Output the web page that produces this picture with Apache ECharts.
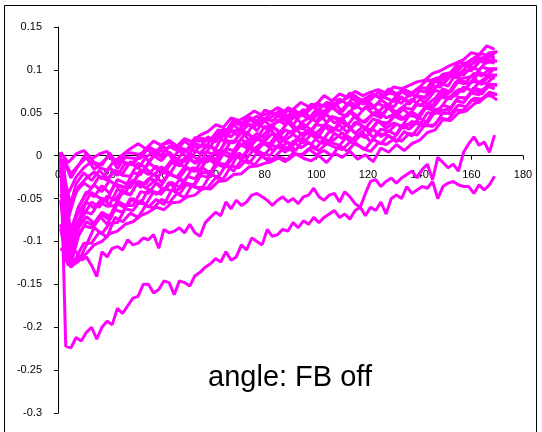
<!DOCTYPE html>
<html><head><meta charset="utf-8">
<script src="https://cdn.jsdelivr.net/npm/echarts@6/dist/echarts.min.js"></script>
<style>html,body{margin:0;padding:0;background:#fff}#c{width:542px;height:432px}</style>
</head><body><div id="c"></div>
<script>
// x sample positions
const xa = [1,4,7,10,13,16,19,22,25,28,31,34,37,40,43,46,49,52,55,58,61,64,67,70,73,76,79,82,85,88,91,94,97,100,103,106,109,112,115,118,121,124,127,130,133,136,139,142,145,148,151,154,157,160,163,166,169];
const xb = [2,5,8,11,14,17,20,23,26,29,32,35,38,41,44,47,50,53,56,59,62,65,68,71,74,77,80,83,86,89,92,95,98,101,104,107,110,113,116,119,122,125,128,131,134,137,140,143,146,149,152,155,158,161,164,167,170];
const xOdd = [1,3,5,7,9,11,13,15,17,19,21,23,25,27,29,31,33,35,37,39,41,43,45,47,49,51,53,55,57,59,61,63,65,67,69,71,73,75,77,79,81,83,85,87,89,91,93,95,97,99,101,103,105,107,109,111,113,115,117,119,121,123,125,127,129,131,133,135,137,139,141,143,145,147,149,151,153,155,157,159,161,163,165,167,169];

// bundle series
const t1 = [0.004,-0.008,0.002,0.006,-0.004,0.002,0.005,-0.006,0.001,0.008,0.014,0.008,0.017,0.012,0.018,0.011,0.020,0.016,0.024,0.028,0.036,0.033,0.044,0.041,0.046,0.052,0.047,0.050,0.056,0.051,0.054,0.062,0.057,0.060,0.070,0.064,0.072,0.068,0.075,0.070,0.074,0.077,0.073,0.080,0.078,0.082,0.086,0.088,0.096,0.099,0.104,0.108,0.112,0.120,0.118,0.128,0.124];
const t2 = [-0.004,-0.026,-0.011,0.003,-0.008,-0.011,0.003,-0.010,0.003,0.003,0.001,0.011,0.005,0.014,0.015,0.009,0.007,0.021,0.020,0.018,0.030,0.028,0.042,0.038,0.045,0.040,0.053,0.050,0.046,0.056,0.051,0.049,0.060,0.058,0.058,0.066,0.063,0.073,0.067,0.063,0.071,0.068,0.078,0.072,0.077,0.073,0.080,0.089,0.086,0.095,0.097,0.108,0.108,0.114,0.119,0.116,0.122];
const t3 = [-0.020,-0.044,-0.025,-0.014,-0.007,-0.014,-0.017,-0.005,-0.007,-0.010,-0.003,0.008,0.002,0.001,0.011,0.006,0.017,0.010,0.010,0.022,0.016,0.031,0.029,0.029,0.044,0.039,0.037,0.049,0.047,0.040,0.055,0.047,0.052,0.061,0.058,0.055,0.066,0.060,0.070,0.060,0.065,0.074,0.067,0.063,0.075,0.069,0.077,0.074,0.089,0.087,0.094,0.095,0.107,0.106,0.114,0.114,0.116];
const t4 = [-0.020,-0.058,-0.036,-0.026,-0.019,-0.027,-0.014,-0.023,-0.009,-0.011,0.003,-0.006,0.001,0.011,-0.003,0.006,-0.002,0.014,0.011,0.010,0.026,0.022,0.036,0.028,0.037,0.029,0.044,0.040,0.050,0.039,0.046,0.054,0.042,0.053,0.051,0.062,0.051,0.062,0.059,0.067,0.056,0.065,0.059,0.070,0.065,0.063,0.076,0.074,0.087,0.083,0.093,0.091,0.104,0.102,0.113,0.111,0.110];
const t5 = [-0.005,-0.073,-0.042,-0.032,-0.038,-0.024,-0.029,-0.018,-0.023,-0.024,-0.009,-0.014,0.000,-0.006,0.004,-0.004,-0.007,0.007,0.003,0.012,0.008,0.025,0.022,0.031,0.024,0.039,0.034,0.029,0.042,0.036,0.048,0.038,0.044,0.040,0.052,0.059,0.049,0.046,0.059,0.053,0.061,0.051,0.060,0.057,0.069,0.060,0.070,0.068,0.076,0.085,0.081,0.096,0.094,0.103,0.100,0.110,0.108];
const t6 = [-0.064,-0.087,-0.059,-0.045,-0.034,-0.042,-0.029,-0.036,-0.037,-0.020,-0.022,-0.008,-0.015,-0.017,-0.005,-0.009,0.000,-0.008,0.004,0.003,0.001,0.018,0.015,0.030,0.024,0.020,0.034,0.033,0.027,0.039,0.033,0.031,0.041,0.049,0.039,0.045,0.042,0.052,0.046,0.057,0.048,0.044,0.057,0.051,0.058,0.066,0.058,0.065,0.076,0.074,0.075,0.089,0.091,0.093,0.103,0.101,0.101];
const t7 = [-0.004,-0.092,-0.071,-0.057,-0.043,-0.049,-0.052,-0.033,-0.036,-0.037,-0.023,-0.015,-0.023,-0.013,-0.023,-0.008,-0.013,0.000,-0.007,-0.007,0.007,0.003,0.017,0.016,0.028,0.017,0.023,0.032,0.020,0.030,0.026,0.037,0.025,0.036,0.035,0.046,0.040,0.035,0.047,0.039,0.046,0.053,0.044,0.048,0.056,0.048,0.060,0.058,0.058,0.073,0.072,0.086,0.084,0.085,0.097,0.093,0.102];
const t8 = [-0.073,-0.106,-0.075,-0.054,-0.061,-0.050,-0.057,-0.039,-0.043,-0.028,-0.037,-0.027,-0.029,-0.014,-0.023,-0.026,-0.014,-0.018,-0.003,-0.005,-0.008,0.008,0.006,0.020,0.009,0.019,0.017,0.026,0.014,0.026,0.031,0.023,0.029,0.023,0.036,0.031,0.044,0.031,0.039,0.032,0.043,0.039,0.038,0.049,0.043,0.051,0.045,0.059,0.059,0.071,0.066,0.077,0.078,0.090,0.083,0.094,0.094];
const t9 = [-0.013,-0.111,-0.082,-0.065,-0.068,-0.054,-0.059,-0.058,-0.043,-0.046,-0.030,-0.038,-0.030,-0.035,-0.021,-0.025,-0.030,-0.014,-0.016,-0.003,-0.010,0.002,-0.003,0.010,0.017,0.008,0.015,0.010,0.022,0.016,0.012,0.025,0.029,0.022,0.020,0.032,0.029,0.037,0.026,0.034,0.029,0.040,0.032,0.038,0.034,0.047,0.045,0.056,0.053,0.055,0.068,0.070,0.080,0.076,0.085,0.084,0.093];
const t10 = [-0.102,-0.115,-0.084,-0.071,-0.079,-0.066,-0.071,-0.053,-0.058,-0.058,-0.042,-0.044,-0.032,-0.041,-0.031,-0.037,-0.024,-0.027,-0.014,-0.021,-0.009,-0.010,0.004,-0.005,0.008,0.006,0.015,0.006,0.014,0.006,0.019,0.015,0.025,0.016,0.013,0.026,0.020,0.031,0.024,0.031,0.021,0.031,0.028,0.037,0.032,0.040,0.036,0.050,0.049,0.059,0.056,0.068,0.067,0.079,0.076,0.083,0.083];
const t11 = [-0.052,-0.128,-0.097,-0.082,-0.084,-0.070,-0.080,-0.063,-0.066,-0.050,-0.055,-0.057,-0.042,-0.045,-0.031,-0.041,-0.033,-0.036,-0.023,-0.025,-0.009,-0.013,-0.013,0.003,-0.003,0.008,0.003,0.000,0.011,0.004,0.017,0.009,0.015,0.009,0.020,0.015,0.012,0.023,0.017,0.027,0.016,0.026,0.024,0.020,0.035,0.031,0.039,0.036,0.051,0.049,0.050,0.064,0.062,0.073,0.071,0.081,0.078];
const t12 = [-0.106,-0.129,-0.123,-0.104,-0.084,-0.091,-0.079,-0.078,-0.062,-0.064,-0.052,-0.060,-0.051,-0.057,-0.040,-0.045,-0.032,-0.037,-0.037,-0.022,-0.025,-0.011,-0.018,-0.005,-0.009,0.003,-0.003,-0.004,0.005,0.010,0.002,0.001,0.010,0.006,0.014,0.010,0.007,0.016,0.012,0.008,0.019,0.014,0.024,0.016,0.028,0.023,0.035,0.035,0.036,0.050,0.049,0.059,0.057,0.067,0.066,0.074,0.071];
const t13 = [-0.085,-0.128,-0.119,-0.102,-0.102,-0.089,-0.095,-0.072,-0.077,-0.067,-0.072,-0.058,-0.061,-0.051,-0.055,-0.044,-0.049,-0.034,-0.040,-0.037,-0.026,-0.027,-0.012,-0.014,-0.005,-0.011,0.000,-0.008,-0.002,-0.007,0.003,0.000,0.008,0.001,0.006,0.000,0.012,0.005,0.015,0.008,0.005,0.015,0.013,0.019,0.017,0.026,0.024,0.036,0.034,0.044,0.042,0.053,0.053,0.065,0.062,0.070,0.069];
const tC = [-0.118,-0.130,-0.120,-0.114,-0.104,-0.100,-0.091,-0.088,-0.080,-0.077,-0.070,-0.066,-0.060,-0.063,-0.055,-0.054,-0.048,-0.046,-0.038,-0.039,-0.030,-0.029,-0.022,-0.021,-0.013,-0.012,-0.009,-0.006,-0.002,-0.005,0.002,-0.003,-0.006,0.000,-0.008,0.003,-0.002,0.005,-0.004,0.001,-0.007,0.009,0.004,0.013,0.006,0.014,0.018,0.027,0.030,0.042,0.041,0.050,0.052,0.060,0.066,0.071,0.065];
const u1 = [-0.003,-0.021,-0.011,-0.002,-0.016,-0.008,0.000,-0.015,-0.002,-0.003,-0.003,0.009,0.006,0.005,0.012,0.008,0.006,0.017,0.017,0.017,0.029,0.027,0.039,0.035,0.041,0.046,0.040,0.046,0.053,0.046,0.051,0.047,0.057,0.054,0.062,0.058,0.064,0.069,0.062,0.067,0.072,0.066,0.073,0.071,0.076,0.073,0.079,0.079,0.090,0.092,0.093,0.104,0.106,0.113,0.113,0.120,0.121];
const u2 = [-0.045,-0.066,-0.033,-0.020,-0.029,-0.017,-0.027,-0.017,-0.021,-0.007,-0.015,-0.002,0.005,-0.002,0.004,-0.005,0.006,0.000,0.012,0.013,0.026,0.017,0.029,0.023,0.037,0.033,0.044,0.035,0.039,0.046,0.036,0.048,0.043,0.054,0.047,0.056,0.050,0.061,0.055,0.065,0.054,0.061,0.056,0.066,0.061,0.072,0.069,0.067,0.081,0.080,0.093,0.091,0.100,0.099,0.110,0.108,0.114];
const u3 = [-0.004,-0.097,-0.060,-0.042,-0.048,-0.035,-0.044,-0.028,-0.032,-0.032,-0.016,-0.022,-0.012,-0.021,-0.008,-0.012,-0.001,-0.009,-0.003,0.011,0.003,0.016,0.015,0.028,0.018,0.026,0.020,0.034,0.027,0.039,0.029,0.037,0.030,0.041,0.048,0.038,0.044,0.051,0.042,0.039,0.050,0.047,0.056,0.046,0.056,0.054,0.066,0.060,0.067,0.078,0.074,0.087,0.086,0.096,0.093,0.101,0.101];
const u4 = [-0.108,-0.118,-0.085,-0.069,-0.054,-0.060,-0.047,-0.052,-0.040,-0.046,-0.030,-0.033,-0.021,-0.031,-0.021,-0.025,-0.013,-0.018,-0.018,-0.001,-0.004,0.006,0.001,0.014,0.009,0.022,0.016,0.014,0.026,0.018,0.025,0.018,0.030,0.026,0.035,0.027,0.036,0.027,0.039,0.034,0.030,0.041,0.036,0.046,0.042,0.050,0.044,0.056,0.055,0.069,0.066,0.075,0.075,0.087,0.085,0.092,0.090];
const u5 = [-0.066,-0.126,-0.093,-0.077,-0.082,-0.069,-0.075,-0.056,-0.061,-0.050,-0.056,-0.039,-0.045,-0.038,-0.041,-0.028,-0.033,-0.034,-0.019,-0.021,-0.008,-0.013,-0.001,-0.003,0.010,0.003,0.001,0.012,0.009,0.016,0.006,0.019,0.013,0.024,0.014,0.019,0.027,0.016,0.025,0.021,0.031,0.022,0.029,0.024,0.037,0.035,0.044,0.038,0.052,0.053,0.055,0.068,0.067,0.077,0.072,0.082,0.082];
// two separated lower lines
const sB = [-0.080,-0.118,-0.108,-0.112,-0.122,-0.118,-0.128,-0.141,-0.112,-0.118,-0.108,-0.106,-0.110,-0.098,-0.104,-0.102,-0.096,-0.098,-0.092,-0.108,-0.086,-0.090,-0.088,-0.084,-0.090,-0.080,-0.090,-0.094,-0.078,-0.072,-0.066,-0.070,-0.054,-0.062,-0.052,-0.058,-0.054,-0.046,-0.044,-0.048,-0.052,-0.058,-0.052,-0.048,-0.054,-0.050,-0.056,-0.048,-0.046,-0.038,-0.048,-0.052,-0.046,-0.044,-0.054,-0.042,-0.048,-0.056,-0.060,-0.044,-0.030,-0.028,-0.036,-0.030,-0.026,-0.032,-0.026,-0.022,-0.018,-0.026,-0.016,-0.010,-0.028,-0.002,-0.008,-0.014,-0.010,-0.018,0.004,0.014,0.022,0.012,0.016,0.004,0.024];
const sA = [0.004,-0.222,-0.224,-0.212,-0.216,-0.206,-0.200,-0.214,-0.200,-0.193,-0.197,-0.178,-0.184,-0.175,-0.166,-0.164,-0.150,-0.150,-0.160,-0.156,-0.146,-0.148,-0.162,-0.146,-0.148,-0.152,-0.140,-0.136,-0.130,-0.126,-0.120,-0.124,-0.112,-0.122,-0.118,-0.104,-0.110,-0.096,-0.100,-0.104,-0.086,-0.094,-0.092,-0.086,-0.088,-0.078,-0.084,-0.076,-0.080,-0.072,-0.078,-0.072,-0.068,-0.064,-0.072,-0.068,-0.074,-0.064,-0.060,-0.070,-0.060,-0.064,-0.054,-0.068,-0.050,-0.046,-0.050,-0.036,-0.044,-0.040,-0.036,-0.038,-0.030,-0.050,-0.036,-0.032,-0.030,-0.034,-0.036,-0.036,-0.044,-0.034,-0.040,-0.034,-0.024];

const titleText = 'angle: FB off';

const lines = [
  [xa,t1],[xb,t2],[xa,t3],[xb,t4],[xa,t5],[xb,t6],[xa,t7],[xb,t8],[xa,t9],[xb,t10],[xa,t11],[xb,t12],[xa,t13],[xb,tC],
  [xb,u1],[xa,u2],[xb,u3],[xa,u4],[xb,u5],
  [xOdd,sB],[xOdd,sA]
];

const chart = echarts.init(document.getElementById('c'), null, {renderer:'canvas'});
const FONT = '"Liberation Sans", Arial, sans-serif';
// grid: top 27, bottom 19 -> plot height 386; the x axis is moved up to y = 0
const ZERO_OFFSET = -(386 * (0.3 / 0.45));
chart.setOption({
  animation:false,
  backgroundColor:'#ffffff',
  grid:{left:58,right:19,top:27,bottom:19,containLabel:false},
  xAxis:{type:'value',min:0,max:180,interval:20,position:'bottom',offset:ZERO_OFFSET,
    axisLine:{onZero:false,lineStyle:{color:'#000',width:1}},
    axisTick:{show:true,inside:false,length:4,lineStyle:{color:'#000'}},
    axisLabel:{color:'#000',fontSize:11,fontFamily:FONT,margin:14,showMinLabel:true,showMaxLabel:true},
    splitLine:{show:false}},
  yAxis:{type:'value',min:-0.3,max:0.15,interval:0.05,
    axisLine:{show:true,onZero:false,lineStyle:{color:'#000',width:1}},
    axisTick:{show:true,inside:false,length:4,lineStyle:{color:'#000'}},
    axisLabel:{color:'#000',fontSize:11,fontFamily:FONT,margin:16},
    splitLine:{show:false}},
  graphic:[
    {type:'rect',shape:{x:4.5,y:5.5,width:532,height:440},style:{fill:null,stroke:'#000',lineWidth:1},z:-10,silent:true},
    {type:'text',x:290,y:378,style:{text:titleText,font:'29px '+FONT,fill:'#000',textAlign:'center',textVerticalAlign:'middle'},z:100}
  ],
  series: lines.map(([xs,ys])=>({
    type:'line',showSymbol:false,symbol:'none',smooth:false,
    lineStyle:{color:'#ff00ff',width:3},
    data: xs.map((x,i)=>[x,ys[i]])
  }))
});
</script></body></html>
